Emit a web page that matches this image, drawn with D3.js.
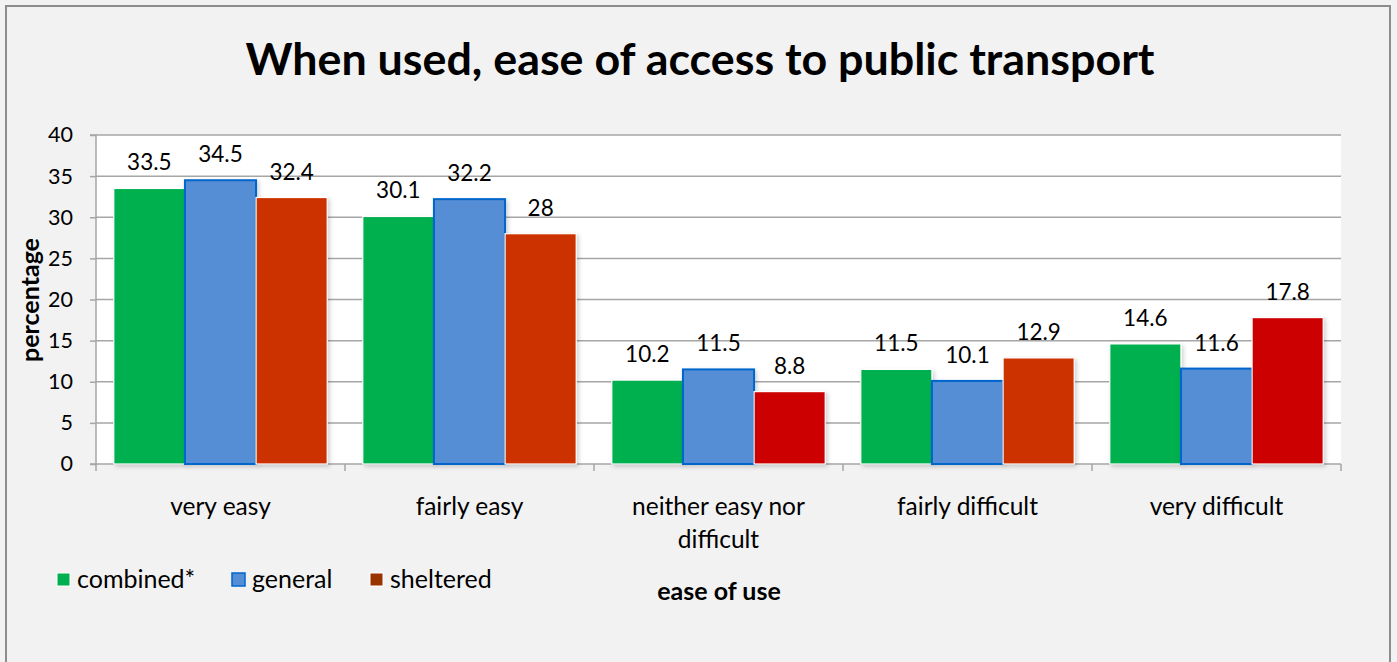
<!DOCTYPE html>
<html><head><meta charset="utf-8">
<script src="https://cdn.jsdelivr.net/npm/d3@7"></script>
<style>body{margin:0;background:#F2F2F2;} svg{display:block;font-family:Lato,"Open Sans",sans-serif;}</style>
</head><body>
<svg id="c" width="1397" height="662"></svg>
<script>
const categories = ["very easy","fairly easy","neither easy nor difficult","fairly difficult","very difficult"];
const seriesNames = ["combined*","general","sheltered"];
const combined = [33.5,30.1,10.2,11.5,14.6];
const general = [34.5,32.2,11.5,10.1,11.6];
const sheltered = [32.4,28,8.8,12.9,17.8];
const yTicks = [0,5,10,15,20,25,30,35,40];
const shelteredFills = ["#CC3300","#CC3300","#CC0000","#CC3300","#CC0000"];

const svg = d3.select("#c");
const W=1397,H=662;
const pL=96,pR=1341,pT=135,pB=464;

svg.append("rect").attr("x",0).attr("y",0).attr("width",W).attr("height",H).attr("fill","#F2F2F2");
svg.append("rect").attr("x",6).attr("y",6).attr("width",1384).attr("height",700).attr("fill","none").attr("stroke","#8C8C8C").attr("stroke-width",2);

const defs = svg.append("defs");
const f = defs.append("filter").attr("id","sh").attr("x","-10%").attr("y","-10%").attr("width","130%").attr("height","130%");
f.append("feDropShadow").attr("dx",2).attr("dy",2).attr("stdDeviation",2).attr("flood-color","#000").attr("flood-opacity",0.18);

const x0 = d3.scaleBand().domain(categories).range([pL,pR]).padding(0);
const x1 = d3.scaleBand().domain(seriesNames).range([0,x0.bandwidth()]).paddingInner(0).paddingOuter(0.25);
const y = d3.scaleLinear().domain([0,40]).range([pB,pT]);

svg.append("rect").attr("x",pL).attr("y",pT).attr("width",pR-pL).attr("height",pB-pT).attr("fill","#FFFFFF");

svg.append("g").selectAll("line").data(yTicks.filter(d=>d>0)).join("line")
  .attr("x1",pL).attr("x2",pR).attr("y1",d=>y(d)).attr("y2",d=>y(d))
  .attr("stroke","#A6A6A6").attr("stroke-width",1.5);

const ya = svg.append("g").attr("transform",`translate(${pL},0)`)
  .call(d3.axisLeft(y).tickValues(yTicks).tickSize(6).tickPadding(17).tickFormat(d3.format("d")));
ya.select(".domain").attr("stroke","#A6A6A6").attr("stroke-width",1.5).attr("d",`M-6,${pT}H0V${pB}H-6`);
ya.selectAll(".tick line").attr("stroke","#A6A6A6").attr("stroke-width",1.5);
ya.selectAll(".tick text").attr("font-size",21.5).attr("fill","#000").attr("font-family","Lato");

const xa = svg.append("g").attr("transform",`translate(0,${pB})`);
xa.append("line").attr("x1",pL).attr("x2",pR).attr("y1",0).attr("y2",0).attr("stroke","#A6A6A6").attr("stroke-width",1.5);
xa.selectAll("line.tk").data(categories.map(c=>x0(c)).concat([pR])).join("line").attr("class","tk")
  .attr("x1",d=>d).attr("x2",d=>d).attr("y1",0).attr("y2",7).attr("stroke","#A6A6A6").attr("stroke-width",1.5);

const rows = categories.map((c,i)=>({c,i,vals:[combined[i],general[i],sheltered[i]]}));
const fills = (s,i)=> s===0?"#00B050": s===1?"#558ED5": shelteredFills[i];
const g = svg.append("g").selectAll("g").data(rows).join("g").attr("transform",d=>`translate(${x0(d.c)},0)`);
g.selectAll("rect").data(d=>d.vals.map((v,s)=>({v,s,i:d.i}))).join("rect")
  .attr("x",d=>x1(seriesNames[d.s])).attr("width",x1.bandwidth())
  .attr("y",d=>y(d.v)).attr("height",d=>y(0)-y(d.v))
  .attr("fill",d=>fills(d.s,d.i))
  .attr("stroke",d=>d.s===1?"#0066CC":"#FFFFFF")
  .attr("stroke-width",d=>d.s===1?2:1.2)
  .attr("filter","url(#sh)");
g.selectAll("text").data(d=>d.vals.map((v,s)=>({v,s}))).join("text")
  .attr("x",d=>x1(seriesNames[d.s])+x1.bandwidth()/2).attr("y",d=>y(d.v)-18)
  .attr("text-anchor","middle").attr("font-size",22.5).attr("fill","#000").text(d=>d.v);

const cl = svg.append("g").selectAll("text").data(categories).join("text")
  .attr("x",d=>x0(d)+x0.bandwidth()/2).attr("y",515).attr("text-anchor","middle").attr("font-size",24.5).attr("fill","#000");
cl.each(function(d){
  const t=d3.select(this); const words=d.split(" "); let line=[]; let lines=[];
  const probe=t.append("tspan");
  words.forEach(w=>{ const test=line.concat([w]).join(" "); probe.text(test);
    if(probe.node().getComputedTextLength()>215 && line.length){lines.push(line.join(" ")); line=[w];} else line.push(w);});
  lines.push(line.join(" ")); probe.remove();
  lines.forEach((l,k)=>t.append("tspan").attr("x",x0(d)+x0.bandwidth()/2).attr("dy",k?33:0).text(l));
});

svg.append("text").attr("x",700).attr("y",75).attr("text-anchor","middle").attr("font-size",44.8).attr("font-weight","bold").attr("fill","#000")
  .text("When used, ease of access to public transport");

svg.append("text").attr("transform","translate(39,300) rotate(-90)").attr("text-anchor","middle").attr("font-size",25).attr("font-weight","bold").text("percentage");

svg.append("text").attr("x",719).attr("y",600).attr("text-anchor","middle").attr("font-size",25).attr("font-weight","bold").text("ease of use");

const legendX=[57,232,370];
const legendFill=["#00B050","#558ED5","#993300"];
const lg = svg.append("g").selectAll("g").data(seriesNames).join("g").attr("transform",(d,i)=>`translate(${legendX[i]},573)`);
lg.append("rect").attr("x",0).attr("y",0).attr("width",13).attr("height",13).attr("fill",(d,i)=>legendFill[i])
  .attr("stroke",(d,i)=>i===1?"#0066CC":"#FFFFFF").attr("stroke-width",(d,i)=>i===1?1.5:1);
lg.append("text").attr("x",20).attr("y",14.5).attr("font-size",25).attr("fill","#000").text(d=>d);
</script>
</body></html>
